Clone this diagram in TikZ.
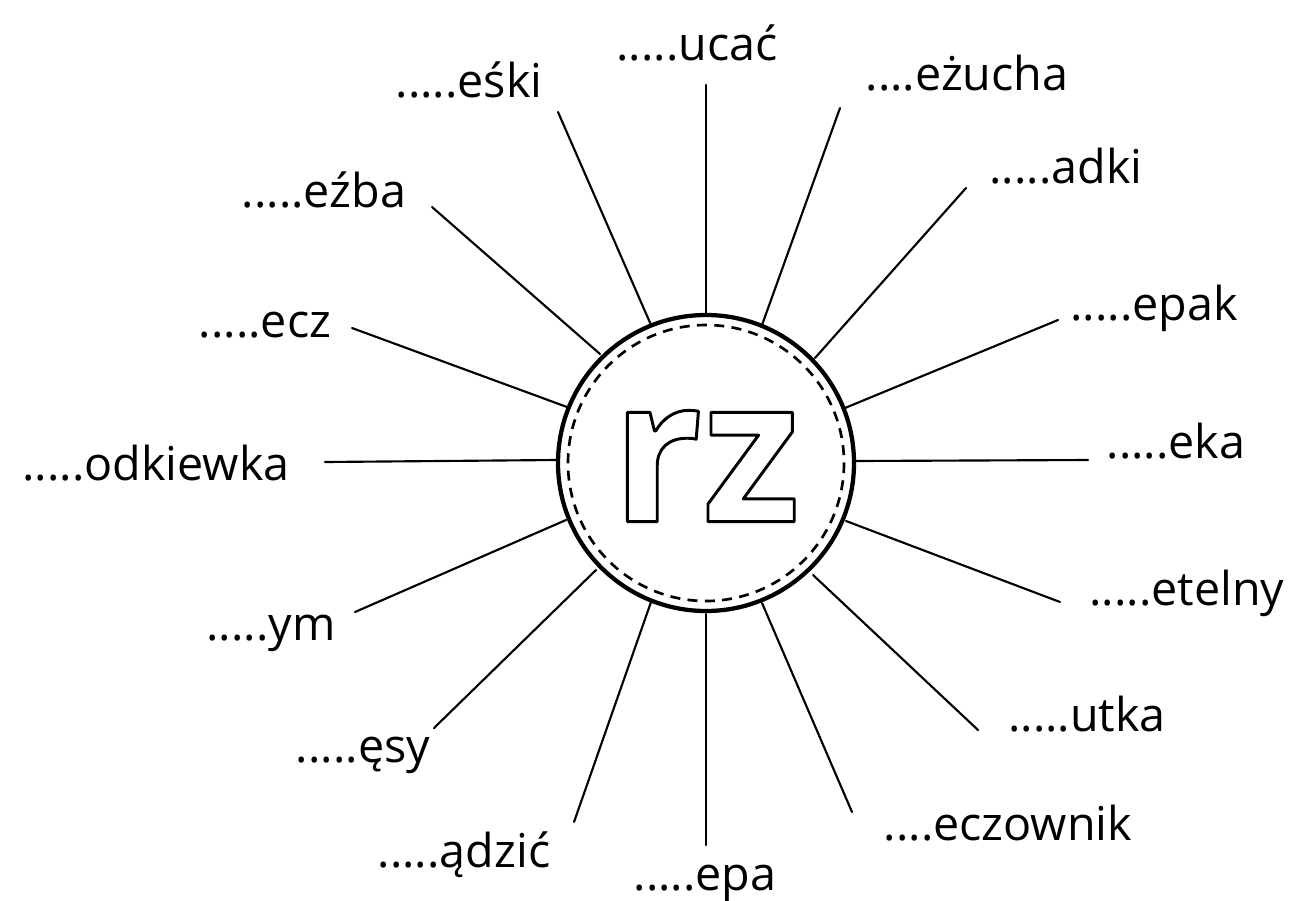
\documentclass[tikz,border=0pt]{standalone}
\usepackage{fontspec}
\setmainfont{Open Sans}
\newcommand\outlinetext[1]{\special{pdf:literal direct 1 Tr 2.2 w 1 j}#1\special{pdf:literal direct 0 Tr}}
\begin{document}
\begin{tikzpicture}[x=0.75pt,y=-0.75pt,
  lbl/.style={anchor=base,font=\fontsize{35}{40}\selectfont,inner sep=0pt},
  ray/.style={line width=1.6pt,line cap=round}]
\useasboundingbox (0,0) rectangle (1301,900);
\coordinate (c) at (706,463);
\draw[line width=3.2pt] (c) circle[radius=148];
\draw[line width=2pt,dash pattern=on 7.5pt off 5.5pt] (c) circle[radius=138];
% labels
\node[lbl] (l1) at (697,60) {.....ucać};
\node[lbl] (l2) at (967,90) {....eżucha};
\node[lbl] (l3) at (1066,183) {.....adki};
\node[lbl] (l4) at (1154,320) {.....epak};
\node[lbl] (l5) at (1176,458) {.....eka};
\node[lbl] (l6) at (1187,605) {.....etelny};
\node[lbl] (l7) at (1087,731) {.....utka};
\node[lbl] (l8) at (1008,840) {....eczownik};
\node[lbl] (l9) at (705,890) {.....epa};
\node[lbl] (l10) at (464,867) {.....ądzić};
\node[lbl] (l11) at (363,762) {.....ęsy};
\node[lbl] (l12) at (271,640) {.....ym};
\node[lbl] (l13) at (156,480) {.....odkiewka};
\node[lbl] (l14) at (265,337) {.....ecz};
\node[lbl] (l15) at (324,207) {.....eźba};
\node[lbl] (l16) at (469,97) {.....eśki};
% ray ends
\coordinate (a1) at (706,85);   \coordinate (b1) at (706,315);
\coordinate (a2) at (840,108);  \coordinate (b2) at (762,325);
\coordinate (a3) at (966,188);  \coordinate (b3) at (815,358);
\coordinate (a4) at (1058,320); \coordinate (b4) at (845,408);
\coordinate (a5) at (1088,460); \coordinate (b5) at (856,461);
\coordinate (a6) at (1060,602); \coordinate (b6) at (846,521);
\coordinate (a7) at (978,730);  \coordinate (b7) at (813,575);
\coordinate (a8) at (852,812);  \coordinate (b8) at (762,603);
\coordinate (a9) at (706,845);  \coordinate (b9) at (706,614);
\coordinate (a10) at (574,822); \coordinate (b10) at (651,602);
\coordinate (a11) at (434,728); \coordinate (b11) at (596,570);
\coordinate (a12) at (355,612); \coordinate (b12) at (566,520);
\coordinate (a13) at (325,462); \coordinate (b13) at (556,460);
\coordinate (a14) at (352,328); \coordinate (b14) at (567,407);
\coordinate (a15) at (432,207); \coordinate (b15) at (600,354);
\coordinate (a16) at (558,112); \coordinate (b16) at (651,325);
\foreach \i in {1,...,16}{\draw[ray] (a\i) -- (b\i);}
% outlined rz
\node[font=\fontsize{150}{150}\selectfont\bfseries] (rz) at (706,466) {\outlinetext{rz}};
\end{tikzpicture}
\end{document}
